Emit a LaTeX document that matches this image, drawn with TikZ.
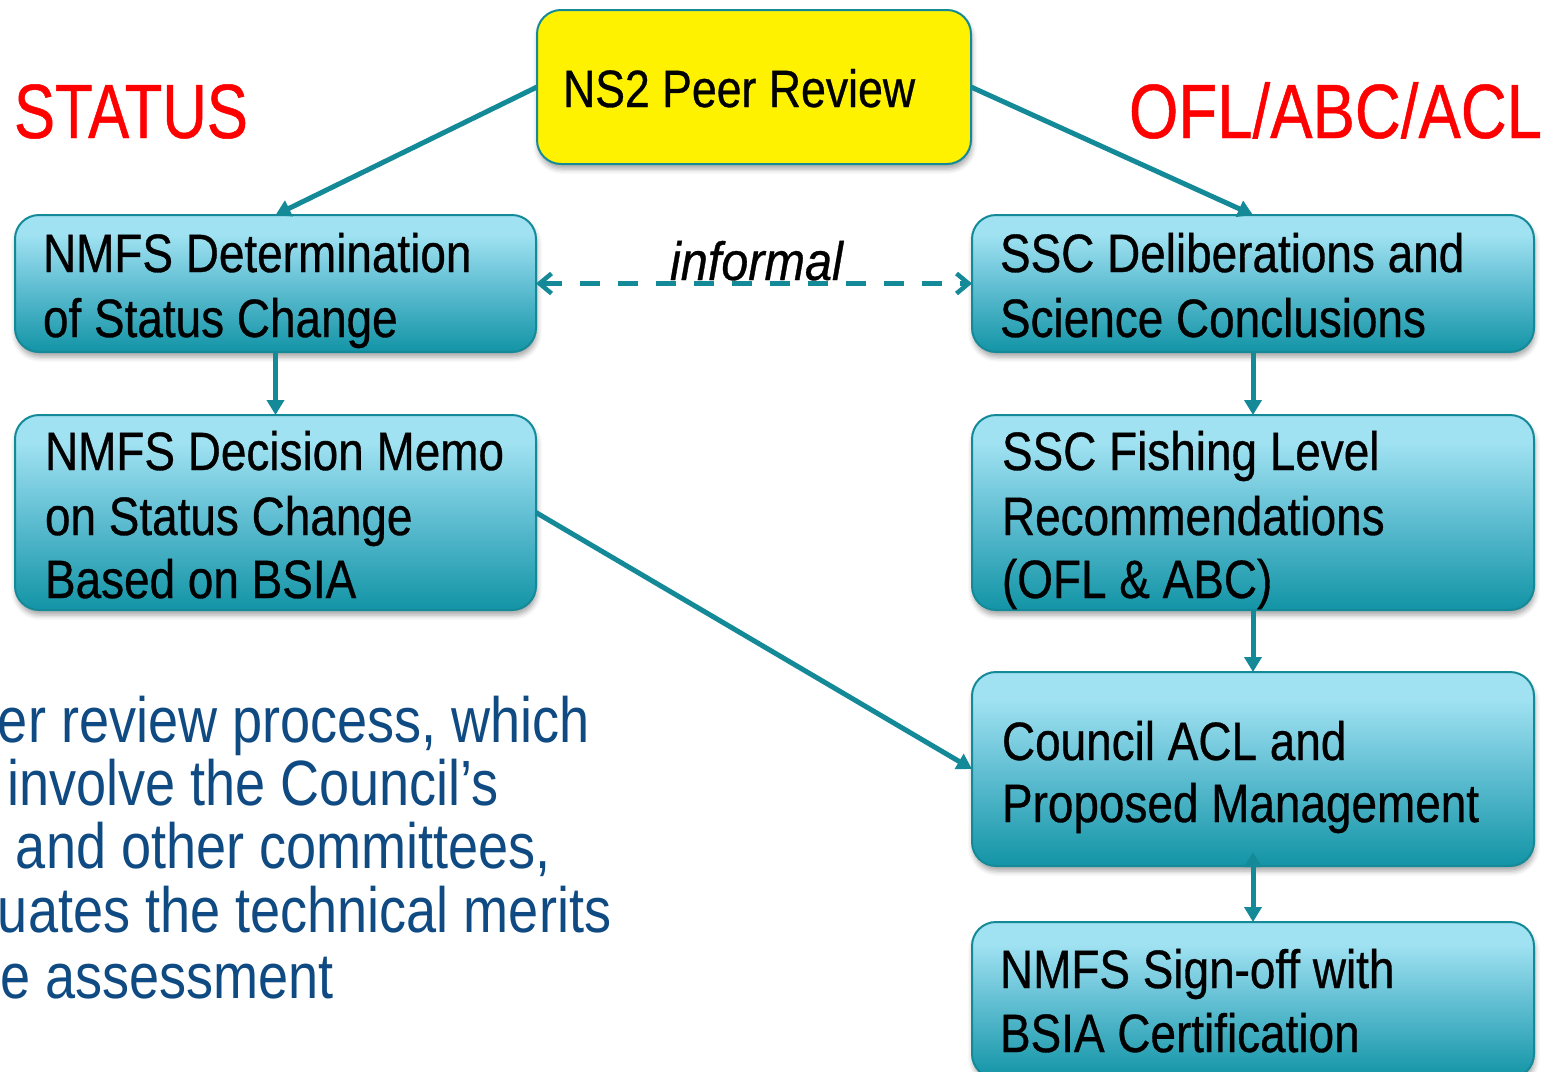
\documentclass[tikz,border=0pt]{standalone}
\usepackage{fontspec}
\setmainfont{Liberation Sans}
\newfontfamily\boxfam[FakeStretch=0.85,FakeBold=0.6]{Liberation Sans}
\newfontfamily\inffam[FakeStretch=0.9,FakeBold=0.6]{Liberation Sans}
\newfontfamily\titlefam[FakeStretch=0.8,FakeBold=0.6]{Liberation Sans}
\newfontfamily\titlefamb[FakeStretch=0.825,FakeBold=0.6]{Liberation Sans}
\newfontfamily\bodyfam[FakeStretch=0.845]{Liberation Sans}
\usetikzlibrary{arrows.meta,shadows.blur}
\definecolor{teal1}{RGB}{20,138,152}
\definecolor{boxtop}{RGB}{160,226,242}
\definecolor{boxmid}{RGB}{100,192,212}
\definecolor{boxbot}{RGB}{18,148,166}
\definecolor{bodyblue}{RGB}{15,75,130}
\definecolor{titlered}{RGB}{255,0,0}
\pgfdeclareverticalshading{boxshade}{100bp}{color(0bp)=(boxbot); color(25bp)=(boxbot); color(50bp)=(boxmid); color(68bp)=(boxtop); color(100bp)=(boxtop)}
\tikzset{
  shadowed/.style={blur shadow={shadow xshift=1pt, shadow yshift=-5pt, shadow blur radius=5pt, shadow opacity=35}},
  tbox/.style={draw=teal1, line width=2pt, rounded corners=24pt, shade, shading=boxshade, inner sep=0pt, outer sep=0pt, shadowed},
  ybox/.style={draw=teal1, line width=2pt, rounded corners=24pt, fill=yellow, inner sep=0pt, outer sep=0pt, shadowed},
  conn/.style={draw=teal1, line width=5pt, -{Triangle[length=15pt,width=17pt]}},
  bconn/.style={draw=teal1, line width=5pt, {Triangle[length=15pt,width=17pt]}-{Triangle[length=15pt,width=17pt]}},
  dconn/.style={draw=teal1, line width=4.5pt, dash pattern=on 20pt off 18pt, {Straight Barb[length=12pt,width=20pt]}-{Straight Barb[length=12pt,width=20pt]}},
  txt/.style={anchor=base west, inner sep=0pt, outer sep=0pt, font=\boxfam\fontsize{54pt}{65pt}\selectfont, text=black},
  ttl/.style={inner sep=0pt, outer sep=0pt, font=\titlefam\fontsize{77pt}{90pt}\selectfont, text=titlered},
  body/.style={anchor=base west, inner sep=0pt, outer sep=0pt, font=\bodyfam\fontsize{64pt}{64pt}\selectfont, text=bodyblue}
}
\begin{document}
\begin{tikzpicture}[x=1pt,y=-1pt]
\useasboundingbox (0,0) rectangle (1554,1071);
\clip (0,0) rectangle (1554,1071);
% boxes
\node[ybox, minimum width=434pt, minimum height=154pt] (N) at (754,87) {};
\node[tbox, minimum width=521pt, minimum height=137pt] (A) at (275.5,283.5) {};
\node[tbox, minimum width=521pt, minimum height=195pt] (B) at (275.5,512.5) {};
\node[tbox, minimum width=562pt, minimum height=137pt] (C) at (1253,283.5) {};
\node[tbox, minimum width=562pt, minimum height=195pt] (D) at (1253,512.5) {};
\node[tbox, minimum width=562pt, minimum height=194pt] (E) at (1253,769) {};
\node[tbox, minimum width=562pt, minimum height=156pt] (F) at (1253,1000) {};
% connectors
\draw[conn] (N.west) -- (A.north);
\draw[conn] (N.east) -- (C.north);
\draw[conn] (A.south) -- (B.north);
\draw[conn] (C.south) -- (D.north);
\draw[conn] (D.south) -- (E.north);
\draw[bconn] ([yshift=14pt]E.south) -- (F.north);
\draw[conn] (B.east) -- (E.west);
\draw[dconn] (A.east) -- (C.west);
% texts
\node[txt, font=\boxfam\fontsize{52.5pt}{65pt}\selectfont] (Nt) at (563,107) {NS2 Peer Review};
\node[txt] (At1) at (43,272) {NMFS Determination};
\node[txt] (At2) at (43,337) {of Status Change};
\node[txt] (Bt1) at (45,470) {NMFS Decision Memo};
\node[txt] (Bt2) at (45,535) {on Status Change};
\node[txt] (Bt3) at (45,598) {Based on BSIA};
\node[txt] (Ct1) at (1000,272) {SSC Deliberations and};
\node[txt] (Ct2) at (1000,337) {Science Conclusions};
\node[txt] (Dt1) at (1002,470) {SSC Fishing Level};
\node[txt] (Dt2) at (1002,535) {Recommendations};
\node[txt] (Dt3) at (1002,598) {(OFL \& ABC)};
\node[txt] (Et1) at (1002,760) {Council ACL and};
\node[txt] (Et2) at (1002,822) {Proposed Management};
\node[txt] (Ft1) at (1000,988) {NMFS Sign-off with};
\node[txt] (Ft2) at (1000,1052) {BSIA Certification};
\node[txt, font=\inffam\itshape\fontsize{54pt}{65pt}\selectfont] (inf) at (670,280) {informal};
\node[ttl, anchor=base west] (st) at (14,138) {STATUS};
\node[ttl, anchor=base east, font=\titlefamb\fontsize{77pt}{90pt}\selectfont] (ofl) at (1542,138) {OFL/ABC/ACL};
\node[body] (b1) at (-2,742) {er review process, which};
\node[body] (b2) at (7,805) {involve the Council’s};
\node[body] (b3) at (16,868) {and other committees,};
\node[body] (b4) at (-2,932) {uates the technical merits};
\node[body] (b5) at (0,998) {e assessment};
\end{tikzpicture}
\end{document}
